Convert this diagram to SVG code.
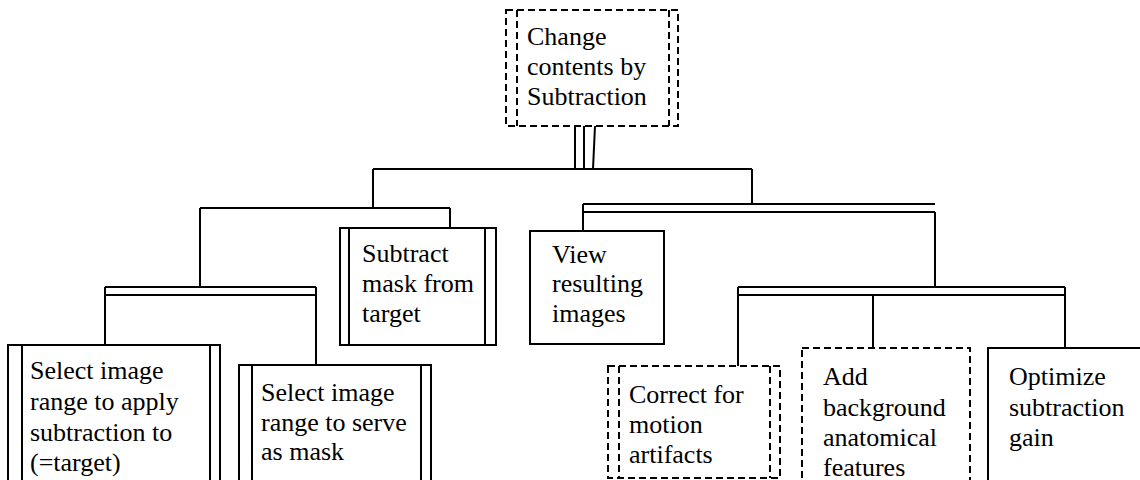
<svg xmlns="http://www.w3.org/2000/svg" width="1140" height="480" viewBox="0 0 1140 480">
<style>
.b{fill:#fff;stroke:#000;stroke-width:2}
.d{fill:#fff;stroke:#000;stroke-width:2;stroke-dasharray:7 4}
.l{fill:none;stroke:#000;stroke-width:2}
.ld{fill:none;stroke:#000;stroke-width:2;stroke-dasharray:7 4}
</style>
<rect width="1140" height="480" fill="#fff"/>
<g id="connectors">
<line class="l" x1="575" y1="126" x2="575" y2="169"/>
<line class="l" x1="584" y1="126" x2="584" y2="169"/>
<line class="l" x1="595" y1="126" x2="593" y2="169"/>
<line class="l" x1="373" y1="169" x2="752" y2="169"/>
<line class="l" x1="373" y1="169" x2="373" y2="208"/>
<line class="l" x1="200" y1="208" x2="450" y2="208"/>
<line class="l" x1="450" y1="208" x2="450" y2="228"/>
<line class="l" x1="200" y1="208" x2="200" y2="287"/>
<line class="l" x1="105" y1="287" x2="316" y2="287"/>
<line class="l" x1="105" y1="295" x2="316" y2="295"/>
<line class="l" x1="105" y1="287" x2="105" y2="345"/>
<line class="l" x1="316" y1="287" x2="316" y2="365"/>
<line class="l" x1="752" y1="169" x2="752" y2="204"/>
<line class="l" x1="583" y1="204" x2="935" y2="204"/>
<line class="l" x1="583" y1="212" x2="935" y2="212"/>
<line class="l" x1="583" y1="204" x2="583" y2="231"/>
<line class="l" x1="935" y1="212" x2="935" y2="287"/>
<line class="l" x1="738" y1="287" x2="1065" y2="287"/>
<line class="l" x1="738" y1="295" x2="1065" y2="295"/>
<line class="l" x1="738" y1="287" x2="738" y2="366"/>
<line class="l" x1="873" y1="295" x2="873" y2="348"/>
<line class="l" x1="1065" y1="287" x2="1065" y2="348"/>
</g>
<g font-family="Liberation Serif, Times New Roman, DejaVu Serif, serif" font-size="26" fill="#000">
<g id="root">
<rect class="d" x="506" y="10" width="172" height="116"/>
<line class="ld" x1="517" y1="10" x2="517" y2="126"/>
<line class="ld" x1="669" y1="10" x2="669" y2="126"/>
<text x="527" y="45">Change</text>
<text x="527" y="75">contents by</text>
<text x="527" y="105">Subtraction</text>
</g>
<g id="subtract">
<rect class="b" x="340" y="228" width="156" height="117"/>
<line class="l" x1="349" y1="228" x2="349" y2="345"/>
<line class="l" x1="485" y1="228" x2="485" y2="345"/>
<text x="362" y="262">Subtract</text>
<text x="362" y="292">mask from</text>
<text x="362" y="322">target</text>
</g>
<g id="select-target">
<rect class="b" x="8" y="345" width="212" height="150"/>
<line class="l" x1="22" y1="345" x2="22" y2="480"/>
<line class="l" x1="210" y1="345" x2="210" y2="480"/>
<text x="30" y="379">Select image</text>
<text x="30" y="410">range to apply</text>
<text x="30" y="441">subtraction to</text>
<text x="30" y="471">(=target)</text>
</g>
<g id="select-mask">
<rect class="b" x="239" y="365" width="192" height="130"/>
<line class="l" x1="252" y1="365" x2="252" y2="480"/>
<line class="l" x1="421" y1="365" x2="421" y2="480"/>
<text x="261" y="401">Select image</text>
<text x="261" y="431">range to serve</text>
<text x="261" y="460">as mask</text>
</g>
<g id="view">
<rect class="b" x="530" y="231" width="134" height="113"/>
<text x="552" y="263">View</text>
<text x="552" y="292">resulting</text>
<text x="552" y="322">images</text>
</g>
<g id="correct">
<rect class="d" x="608" y="366" width="172" height="112"/>
<line class="ld" x1="619" y1="366" x2="619" y2="478"/>
<line class="ld" x1="770" y1="366" x2="770" y2="478"/>
<text x="629" y="403">Correct for</text>
<text x="629" y="433">motion</text>
<text x="629" y="463">artifacts</text>
</g>
<g id="add">
<rect class="d" x="802" y="348" width="168" height="150"/>
<text x="823" y="385">Add</text>
<text x="823" y="416">background</text>
<text x="823" y="446">anatomical</text>
<text x="823" y="476">features</text>
</g>
<g id="optimize">
<rect class="b" x="988" y="348" width="170" height="150"/>
<text x="1009" y="385">Optimize</text>
<text x="1009" y="416">subtraction</text>
<text x="1009" y="446">gain</text>
</g>
</g>
</svg>
